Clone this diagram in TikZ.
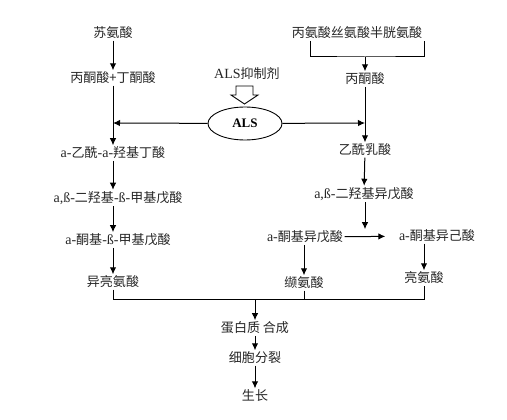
\documentclass[tikz,border=0pt]{standalone}
\usepackage{fontspec}
\setmainfont{Liberation Serif}
\newfontfamily\cjk[Scale=0.93]{Noto Sans CJK SC}
\usetikzlibrary{arrows.meta,shapes.geometric}
\newcommand\zh[1]{{\cjk #1}}
\begin{document}
\begin{tikzpicture}[x=1pt,y=-1pt,
  lbl/.style={inner sep=1.5pt, text=black!85, font=\fontsize{14}{16}\selectfont},
  arr/.style={-{Latex[length=7pt,width=6.5pt]}, line width=1pt},
  ln/.style={line width=1pt}]
\useasboundingbox[fill=white] (0,0) rectangle (507,420);
% left column
\node[lbl] (thr) at (113,33) {\zh{苏氨酸}};
\node[lbl] (pb) at (113,78) {\zh{丙酮酸+丁酮酸}};
\node[lbl] (l1) at (113,153) {a-\zh{乙酰}-a-\zh{羟基丁酸}};
\node[lbl] (l2) at (118,198) {a,ß-\zh{二羟基}-ß-\zh{甲基戊酸}};
\node[lbl] (l3) at (118,240) {a-\zh{酮基}-ß-\zh{甲基戊酸}};
\node[lbl] (ile) at (113,282) {\zh{异亮氨酸}};
\draw[arr] (thr) -- (pb);
\draw[arr] (pb) -- (l1);
\draw[arr] (l1.south) -- (l1.south |- l2.north);
\draw[arr] (l1.south |- l2.south) -- (l1.south |- l3.north);
\draw[arr] (l1.south |- l3.south) -- (ile);
% inhibitor and ALS
\node[lbl] (inh) at (247,74) {ALS\zh{抑制剂}};
\draw[line width=0.9pt, fill=white] (236,86) -- (253,86) -- (253,95) -- (258,95) -- (244.5,104) -- (231,95) -- (236,95) -- cycle;
\node[draw, ellipse, line width=0.9pt, minimum width=74pt, minimum height=33pt, inner sep=0pt, font=\bfseries\fontsize{13}{15}\selectfont] (als) at (245,123.5) {ALS};
\coordinate (la) at (113,123);
\coordinate (ra) at (365,123);
\draw[arr] (als) -- (la);
\draw[arr] (als) -- (ra);
% right column
\node[lbl] (src) at (357,33) {\zh{丙氨酸丝氨酸半胱氨酸}};
\coordinate (b1) at (310,41);
\coordinate (b2) at (424,41);
\coordinate (bj) at (365,57);
\draw[ln] (b1) |- (bj) -| (b2);
\node[lbl] (pyr) at (365,79) {\zh{丙酮酸}};
\draw[arr] (bj) -- (pyr);
\node[lbl] (acl) at (365,150) {\zh{乙酰乳酸}};
\draw[arr] (pyr) -- (acl);
\node[lbl] (dhi) at (364,194) {a,ß-\zh{二羟基异戊酸}};
\draw[arr] (acl) -- (dhi);
\node[lbl] (kiv) at (305,237) {a-\zh{酮基异戊酸}};
\node[lbl] (kic) at (437,236) {a-\zh{酮基异己酸}};
\draw[arr] (dhi.south -| acl) -- (acl |- kiv.north);
\draw[arr, shorten >=12pt] (kiv) -- (kic);
\node[lbl] (val) at (304,283) {\zh{缬氨酸}};
\node[lbl] (leu) at (424,278) {\zh{亮氨酸}};
\draw[arr] (kiv.south -| val) -- (val);
\draw[arr] (kic.south -| leu) -- (leu);
% bottom
\coordinate (jn) at (255,299);
\draw[ln] (ile) -- (ile |- jn) -- (leu |- jn) -- (leu);
\draw[ln] (val) -- (val |- jn);
\node[lbl] (prot) at (255,328) {\zh{蛋白质 合成}};
\node[lbl] (div) at (255,358) {\zh{细胞分裂}};
\node[lbl] (grow) at (255,396) {\zh{生长}};
\draw[arr] (jn) -- (prot);
\draw[arr] (prot) -- (div);
\draw[arr] (div) -- (grow);
\end{tikzpicture}
\end{document}
